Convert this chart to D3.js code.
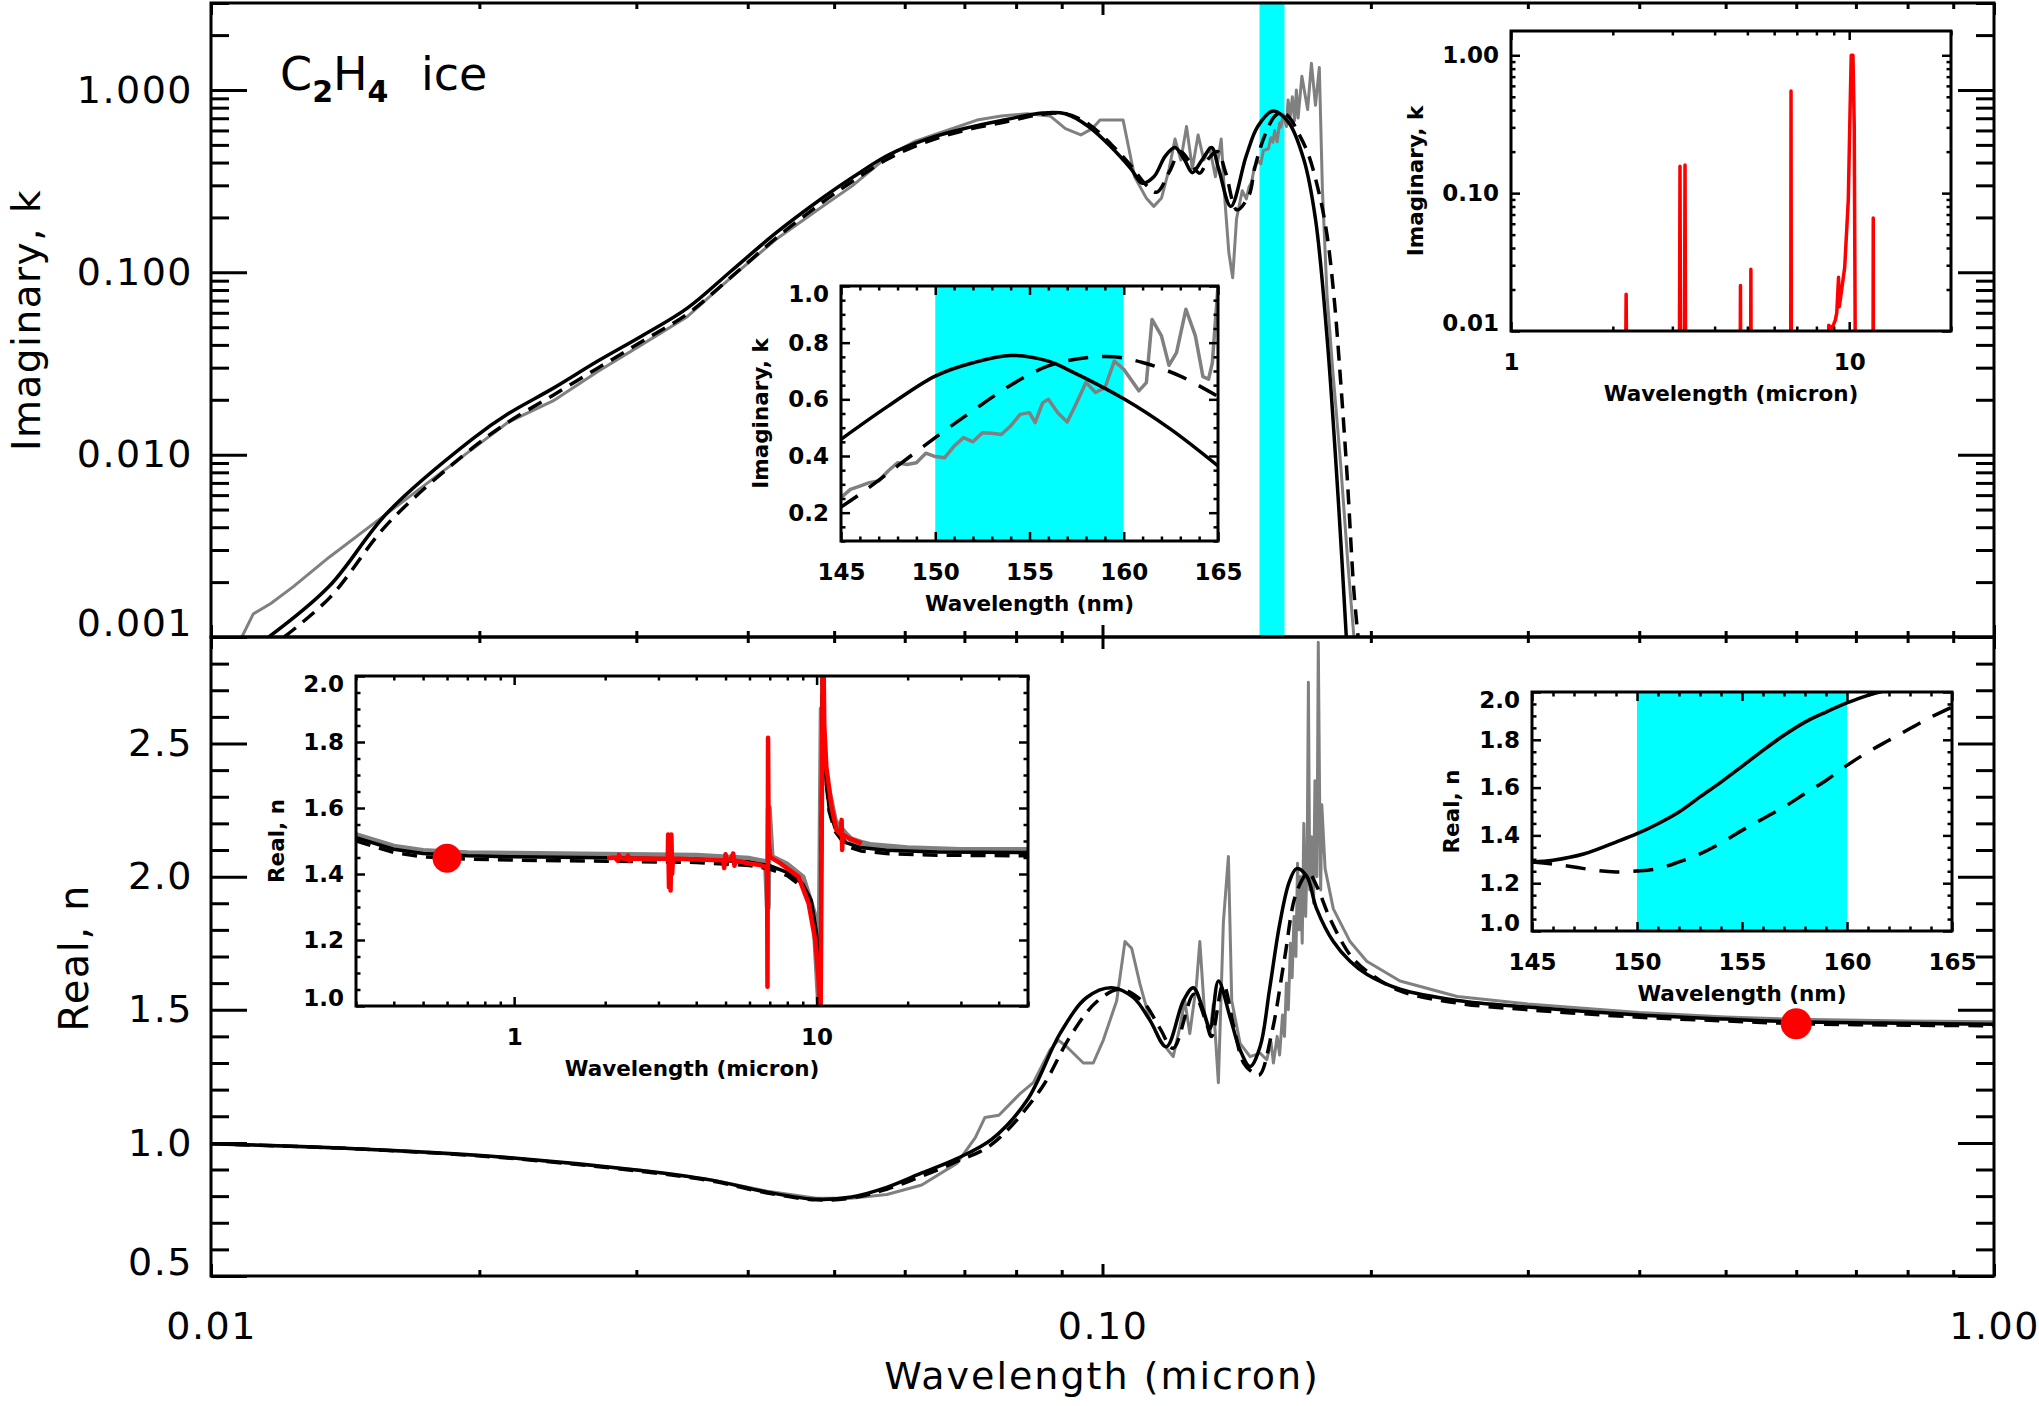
<!DOCTYPE html>
<html><head><meta charset="utf-8">
<script src="https://cdn.jsdelivr.net/npm/d3@7"></script>
<style>body{margin:0;background:#fff}svg{display:block}</style>
</head><body>
<svg id="c" width="2039" height="1406"></svg>
<script>
// ---------------- DATA ----------------
// main x ticks (wavelength, micron)
const lamTickValues = [0.01, 0.1, 1];
const lamTickLabels = ["0.01", "0.10", "1.00"];
const kTickValues = [0.001, 0.01, 0.1, 1];
const kTickLabels = ["0.001", "0.010", "0.100", "1.000"];
const nTickValues = [0.5, 1.0, 1.5, 2.0, 2.5];
const nTickLabels = ["0.5", "1.0", "1.5", "2.0", "2.5"];
const bandMicron = [0.150, 0.160];
const bandNm = [150, 160];
const dotLambda = 0.6, dotN = 1.447, dotNInset = 1.448;

// top panel: imaginary k  [lambda micron, k]
const kGray = [[0.01083,0.001],[0.01115,0.001336],[0.01167,0.001527],[0.01237,0.00189],[0.01357,0.00274],[0.01523,0.0042],[0.0171,0.00643],[0.01919,0.00985],[0.02156,0.0151],[0.02419,0.0197],[0.02716,0.0286],[0.03049,0.0404],[0.03422,0.0571],[0.03841,0.0947],[0.04313,0.153],[0.04842,0.228],[0.0524,0.298],[0.0575,0.435],[0.06169,0.524],[0.06677,0.598],[0.07231,0.684],[0.077,0.72],[0.08228,0.741],[0.08733,0.721],[0.09087,0.614],[0.09456,0.567],[0.09741,0.614],[0.09936,0.684],[0.10546,0.684],[0.10865,0.334],[0.11194,0.256],[0.11418,0.23],[0.11648,0.256],[0.11879,0.371],[0.1206,0.538],[0.12242,0.413],[0.12424,0.631],[0.12611,0.371],[0.12801,0.567],[0.1299,0.413],[0.13187,0.484],[0.13386,0.334],[0.13588,0.538],[0.13723,0.243],[0.13859,0.128],[0.13997,0.0935],[0.14136,0.196],[0.14346,0.28],[0.145,0.253],[0.146,0.294],[0.147,0.312],[0.148,0.376],[0.1495,0.41],[0.1505,0.394],[0.1515,0.465],[0.1535,0.476],[0.1545,0.547],[0.1553,0.518],[0.156,0.6],[0.157,0.52],[0.158,0.66],[0.1585,0.624],[0.1595,0.735],[0.1608,0.63],[0.1615,0.882],[0.1624,0.72],[0.1633,0.918],[0.1642,0.68],[0.165,1.0],[0.16572,0.702],[0.16736,1.19],[0.16986,0.781],[0.17154,1.40],[0.17334,0.824],[0.17507,1.33],[0.17647,0.285],[0.17857,0.0755],[0.18126,0.029],[0.18493,0.00903],[0.18863,0.0024],[0.19143,0.001]];
const kSolid = [[0.01161,0.001],[0.01356,0.00189],[0.01577,0.0048],[0.01965,0.0122],[0.02156,0.0168],[0.02419,0.0231],[0.02716,0.0326],[0.03049,0.045],[0.03422,0.0636],[0.03841,0.1027],[0.04313,0.166],[0.04842,0.254],[0.0524,0.331],[0.0575,0.44],[0.06353,0.538],[0.07,0.615],[0.07749,0.684],[0.0856,0.748],[0.09087,0.741],[0.09645,0.631],[0.10238,0.484],[0.10758,0.371],[0.11084,0.308],[0.11418,0.334],[0.11764,0.435],[0.1206,0.484],[0.12363,0.413],[0.12611,0.352],[0.12929,0.413],[0.13255,0.484],[0.13496,0.371],[0.13929,0.23],[0.14495,0.435],[0.14932,0.631],[0.15539,0.768],[0.16171,0.665],[0.16826,0.413],[0.17334,0.196],[0.17857,0.0444],[0.184,0.00531],[0.18771,0.001]];
const kDashed = [[0.01208,0.001],[0.0136,0.00165],[0.0158,0.0042],[0.0197,0.011],[0.0216,0.0152],[0.0242,0.0212],[0.0272,0.03],[0.0305,0.042],[0.0342,0.059],[0.0384,0.095],[0.0431,0.155],[0.0484,0.24],[0.0524,0.315],[0.0575,0.42],[0.0635,0.52],[0.07,0.6],[0.0775,0.665],[0.0856,0.735],[0.0909,0.74],[0.0965,0.65],[0.1024,0.5],[0.1076,0.385],[0.112,0.3],[0.115,0.275],[0.119,0.36],[0.1222,0.46],[0.1255,0.4],[0.1285,0.35],[0.1315,0.42],[0.1345,0.46],[0.1375,0.35],[0.1415,0.22],[0.146,0.265],[0.148,0.365],[0.15,0.465],[0.152,0.56],[0.154,0.65],[0.156,0.718],[0.158,0.747],[0.1595,0.75],[0.161,0.73],[0.163,0.68],[0.165,0.61],[0.17,0.45],[0.175,0.27],[0.1786,0.16],[0.182,0.07],[0.1849,0.026],[0.188,0.008],[0.1914,0.0018],[0.1935,0.001]];

// bottom panel: real n  [lambda micron, n]
const nGray = [[0.01,0.997],[0.01471,0.977],[0.02114,0.947],[0.03036,0.897],[0.03639,0.862],[0.04207,0.818],[0.04775,0.792],[0.0523,0.792],[0.0573,0.806],[0.0627,0.842],[0.06865,0.923],[0.072,1.02],[0.07379,1.095],[0.07652,1.104],[0.08083,1.185],[0.08364,1.226],[0.08733,1.349],[0.08922,1.386],[0.09117,1.361],[0.09517,1.3],[0.09765,1.3],[0.10021,1.386],[0.10373,1.534],[0.10597,1.756],[0.10782,1.731],[0.11017,1.596],[0.11306,1.46],[0.11601,1.386],[0.12003,1.324],[0.12212,1.435],[0.12368,1.534],[0.12529,1.411],[0.12747,1.596],[0.12858,1.756],[0.13025,1.472],[0.13201,1.411],[0.13315,1.522],[0.13489,1.226],[0.13665,1.83],[0.13843,2.076],[0.13963,1.534],[0.14267,1.374],[0.1464,1.324],[0.15023,1.337],[0.15284,1.312],[0.1545,1.38],[0.1555,1.3],[0.157,1.4],[0.158,1.33],[0.1592,1.48],[0.16,1.4],[0.1608,1.6],[0.1616,1.5],[0.1625,1.75],[0.1632,1.62],[0.164,1.85],[0.1648,1.7],[0.1655,2.05],[0.1662,1.8],[0.1668,2.0],[0.1675,1.75],[0.1682,2.2],[0.169,1.85],[0.1697,2.1],[0.1702,2.73],[0.1708,1.95],[0.1716,2.15],[0.1725,1.9],[0.1731,2.36],[0.174,2.0],[0.1746,2.88],[0.1752,2.3],[0.1757,1.95],[0.1762,2.27],[0.1777,2.03],[0.18152,1.879],[0.18953,1.756],[0.19787,1.682],[0.21564,1.608],[0.25,1.55],[0.3,1.522],[0.4,1.49],[0.5,1.473],[0.6,1.464],[0.8,1.458],[1.0,1.455]];
const nSolid = [[0.01,0.997],[0.01471,0.977],[0.02114,0.947],[0.03036,0.896],[0.03639,0.86],[0.04207,0.815],[0.04775,0.788],[0.0523,0.797],[0.05727,0.833],[0.06271,0.887],[0.06865,0.941],[0.07516,1.014],[0.0823,1.16],[0.08963,1.411],[0.09599,1.546],[0.10237,1.583],[0.10829,1.546],[0.11306,1.46],[0.1179,1.361],[0.12323,1.534],[0.12645,1.583],[0.12975,1.497],[0.13201,1.43],[0.1349,1.608],[0.13903,1.472],[0.14267,1.349],[0.1464,1.287],[0.15023,1.361],[0.154,1.58],[0.158,1.82],[0.162,1.98],[0.1651,2.03],[0.16943,2.002],[0.17387,1.879],[0.18152,1.756],[0.18953,1.682],[0.19787,1.633],[0.21564,1.577],[0.25,1.535],[0.3,1.51],[0.4,1.48],[0.5,1.465],[0.6,1.455],[0.8,1.449],[1.0,1.446]];
const nDashed = [[0.01,0.997],[0.01471,0.977],[0.02114,0.945],[0.03036,0.893],[0.03639,0.857],[0.04207,0.812],[0.04775,0.786],[0.0523,0.793],[0.05727,0.826],[0.06271,0.875],[0.06865,0.93],[0.07516,0.995],[0.0852,1.2],[0.092,1.4],[0.0985,1.53],[0.1046,1.577],[0.111,1.53],[0.116,1.43],[0.12,1.355],[0.1266,1.558],[0.1305,1.46],[0.1325,1.4],[0.13658,1.596],[0.1405,1.43],[0.144,1.3],[0.1477,1.263],[0.15,1.255],[0.155,1.42],[0.16,1.69],[0.165,1.94],[0.1702,2.014],[0.17387,1.965],[0.18,1.842],[0.18953,1.706],[0.19787,1.645],[0.21564,1.571],[0.25,1.525],[0.3,1.5],[0.4,1.472],[0.5,1.458],[0.6,1.448],[0.8,1.442],[1.0,1.44]];

// inset A: k vs nm
const nmTickValues = [145, 150, 155, 160, 165];
const nmTickLabels = ["145", "150", "155", "160", "165"];
const insetKTickValues = [0.2, 0.4, 0.6, 0.8, 1.0];
const insetKTickLabels = ["0.2", "0.4", "0.6", "0.8", "1.0"];
const insetKGray = [[145,0.253],[145.5,0.282],[146,0.294],[146.5,0.306],[147,0.312],[147.5,0.347],[148,0.376],[148.5,0.37],[149,0.376],[149.5,0.41],[150,0.398],[150.5,0.394],[151,0.435],[151.5,0.465],[152,0.45],[152.5,0.482],[153,0.48],[153.5,0.476],[154,0.506],[154.5,0.547],[155,0.553],[155.3,0.518],[155.7,0.588],[156,0.6],[156.5,0.553],[157,0.52],[157.5,0.588],[158,0.66],[158.5,0.624],[159,0.641],[159.5,0.735],[160,0.706],[160.5,0.659],[160.8,0.63],[161.2,0.659],[161.5,0.882],[162,0.824],[162.4,0.72],[162.8,0.765],[163.3,0.918],[163.8,0.824],[164.2,0.68],[164.5,0.671],[164.7,0.729],[165,1.0]];
const insetKSolid = [[145,0.459],[147.5,0.576],[150,0.682],[152,0.729],[154,0.755],[156,0.735],[157,0.706],[160,0.602],[162.5,0.494],[165,0.365]];
const insetKDashed = [[145,0.22],[146,0.265],[148,0.365],[150,0.465],[152,0.56],[154,0.65],[156,0.718],[158,0.747],[159.5,0.75],[161,0.73],[163,0.682],[165,0.61]];

// inset B: k vs micron (IR)
const irTickValues = [1, 10];
const irTickLabels = ["1", "10"];
const irKTickValues = [0.01, 0.1, 1];
const irKTickLabels = ["0.01", "0.10", "1.00"];
const irKRed = [[1.0,0.001],[2.17,0.001],[2.19,0.0185],[2.21,0.001],[3.14,0.001],[3.16,0.157],[3.18,0.001],[3.25,0.001],[3.27,0.16],[3.29,0.001],[4.75,0.001],[4.77,0.0214],[4.79,0.001],[5.10,0.001],[5.12,0.028],[5.14,0.001],[6.71,0.001],[6.73,0.551],[6.75,0.001],[8.65,0.001],[8.7,0.011],[8.9,0.0105],[9.1,0.012],[9.19,0.0136],[9.3,0.0245],[9.35,0.015],[9.7,0.029],[9.94,0.09],[10.05,0.36],[10.14,1.0],[10.26,1.0],[10.35,0.3],[10.46,0.001],[11.75,0.001],[11.78,0.066],[11.8,0.001],[20,0.001]];

// inset C: n vs micron
const insetNTickValues = [1.0, 1.2, 1.4, 1.6, 1.8, 2.0];
const insetNTickLabels = ["1.0", "1.2", "1.4", "1.6", "1.8", "2.0"];
const irNGray = [[0.3,1.518],[0.4,1.483],[0.5,1.47],[0.7,1.463],[1,1.461],[2,1.458],[4,1.455],[6,1.446],[6.8,1.436],[6.9,1.3],[6.95,1.6],[7.1,1.452],[8,1.428],[9,1.39],[9.8,1.28],[10.2,1.0],[10.4,1.9],[10.7,1.7],[11.5,1.56],[12.5,1.52],[13,1.505],[14,1.495],[15,1.488],[20,1.478],[30,1.473],[50,1.473]];
const irNSolid = [[0.3,1.51],[0.4,1.475],[0.5,1.462],[0.7,1.455],[1,1.452],[2,1.449],[4,1.445],[6,1.436],[7,1.425],[8,1.405],[9,1.37],[9.6,1.32],[10.0,1.22],[10.2,1.05],[10.3,0.95],[10.45,2.05],[10.6,1.75],[11,1.6],[11.5,1.54],[12.5,1.495],[14,1.48],[17,1.472],[25,1.467],[50,1.465]];
const irNDashed = [[0.3,1.5],[0.4,1.465],[0.5,1.452],[0.7,1.445],[1,1.442],[2,1.439],[4,1.435],[6,1.426],[7,1.415],[8,1.395],[9,1.36],[9.6,1.31],[10.0,1.21],[10.2,1.04],[10.3,0.94],[10.45,2.04],[10.6,1.74],[11,1.59],[11.5,1.53],[12.5,1.485],[14,1.47],[17,1.462],[25,1.457],[50,1.455]];
const irNRed = [[2.03,1.448],[2.15,1.45],[2.2,1.44],[2.22,1.458],[2.25,1.448],[2.35,1.446],[2.38,1.456],[2.4,1.44],[2.45,1.447],[3.0,1.446],[3.22,1.446],[3.23,1.52],[3.25,1.36],[3.27,1.5],[3.29,1.35],[3.31,1.52],[3.33,1.4],[3.35,1.447],[4.0,1.444],[4.9,1.442],[4.95,1.418],[5.0,1.46],[5.05,1.44],[5.2,1.445],[5.3,1.462],[5.35,1.425],[5.4,1.44],[6.0,1.432],[6.5,1.427],[6.81,1.421],[6.86,1.4],[6.88,1.058],[6.91,1.813],[6.94,1.5],[7.03,1.451],[7.6,1.432],[8.71,1.392],[9.41,1.311],[9.9,1.2],[10.15,1.08],[10.3,0.9],[10.5,2.2],[10.6,1.85],[10.77,1.725],[11.2,1.604],[11.64,1.533],[12.0,1.52],[12.1,1.564],[12.15,1.473],[12.2,1.52],[12.8,1.508],[14.1,1.493]];

// inset D: n vs nm
const insetNSolid = [[145,1.289],[146,1.296],[147.5,1.323],[149,1.372],[150,1.407],[151,1.449],[152,1.498],[153,1.561],[154,1.623],[155,1.689],[156,1.756],[157,1.819],[158,1.874],[159,1.916],[160,1.954],[161,1.986],[162,2.01],[163,2.03],[165,2.05]];
const insetNDashed = [[145,1.289],[146,1.28],[147,1.268],[148,1.254],[149,1.247],[150,1.251],[151,1.261],[152,1.289],[153,1.323],[154,1.368],[155,1.421],[156,1.47],[157,1.519],[158,1.575],[159,1.63],[160,1.693],[161,1.749],[162,1.798],[163,1.847],[164,1.895],[165,1.937]];

// ---------------- DRAWING ----------------
const FONT = "'DejaVu Sans', 'Liberation Sans', sans-serif";
const GRAY = "#808080", RED = "#ff0000", CYAN = "#00ffff";
const svg = d3.select("#c");
svg.append("rect").attr("width", 2039).attr("height", 1406).attr("fill", "#fff");
const defs = svg.append("defs");
let clipN = 0;
function clip(l, t, r, b) {
  const id = "cp" + (clipN++);
  defs.append("clipPath").attr("id", id).append("rect")
    .attr("x", l).attr("y", t).attr("width", r - l).attr("height", b - t);
  return "url(#" + id + ")";
}
function logMinors(lo, hi) {
  const out = [];
  for (let e = Math.floor(Math.log10(lo)) - 1; e <= Math.ceil(Math.log10(hi)); e++)
    for (let m = 2; m <= 9; m++) {
      const v = m * Math.pow(10, e);
      if (v >= lo * 0.9999 && v <= hi * 1.0001) out.push(v);
    }
  return out;
}
function linMinors(lo, hi, step, majors) {
  const out = [];
  for (let v = lo; v <= hi + step / 2; v += step) {
    const r = Math.round(v * 1000) / 1000;
    if (!majors.some(m => Math.abs(m - r) < 1e-6)) out.push(r);
  }
  return out;
}

function axes(g, xs, ys, o) {
  const [x0, x1] = xs.range(), [yb, yt] = ys.range();
  const sides = [
    {fn: d3.axisBottom, tr: `translate(0,${yb})`, s: xs, M: o.xMajor, m: o.xMinor, len: o.xLen, lab: o.xLabels, pad: o.xPad, isY: false},
    {fn: d3.axisTop, tr: `translate(0,${yt})`, s: xs, M: o.xMajor, m: o.xMinor, len: o.xLen, lab: null, isY: false},
    {fn: d3.axisLeft, tr: `translate(${x0},0)`, s: ys, M: o.yMajor, m: o.yMinor, len: o.yLen, lab: o.yLabels, pad: o.yPad, isY: true},
    {fn: d3.axisRight, tr: `translate(${x1},0)`, s: ys, M: o.yMajor, m: o.yMinor, len: o.yLen, lab: null, isY: true}
  ];
  sides.forEach(sd => {
    const gm = g.append("g").attr("transform", sd.tr)
      .call(sd.fn(sd.s).tickValues(sd.m).tickSize(-sd.len[1]).tickFormat(""));
    const gM = g.append("g").attr("transform", sd.tr)
      .call(sd.fn(sd.s).tickValues(sd.M).tickSize(-sd.len[0]).tickPadding(sd.pad || 0)
        .tickFormat(sd.lab ? (d, i) => sd.lab[i] : ""));
    [gm, gM].forEach(a => {
      a.select(".domain").remove();
      a.selectAll("line").attr("stroke", "#000").attr("stroke-width", o.tickW);
      a.attr("font-family", FONT).attr("font-size", o.fontSize).attr("font-weight", o.fontWeight)
        .attr("letter-spacing", o.ls || 0);
    });
    if (sd.lab && sd.isY) {
      gM.selectAll(".tick text").each(function (d) {
        const p = ys(d);
        const q = Math.min(Math.max(p, yt + o.clampC), yb - o.clampC);
        d3.select(this).attr("y", q - p);
      });
    }
  });
  g.append("rect").attr("x", x0).attr("y", yt).attr("width", x1 - x0).attr("height", yb - yt)
    .attr("fill", "none").attr("stroke", "#000").attr("stroke-width", o.frameW);
}
function path(g, data, xs, ys, color, width, dash, curve) {
  g.append("path").datum(data)
    .attr("d", d3.line().x(d => xs(d[0])).y(d => ys(d[1])).curve(curve || d3.curveLinear))
    .attr("fill", "none").attr("stroke", color).attr("stroke-width", width)
    .attr("stroke-dasharray", dash || null).attr("stroke-linejoin", "round");
}

// ---- Main panels ----
const M = {l: 211, r: 1994, t: 3, mid: 637, b: 1276};
const x = d3.scaleLog().domain([0.01, 1]).range([M.l, M.r]);
const yK = d3.scaleLog().domain([0.001, 3]).range([M.mid, M.t]);
const yN = d3.scaleLinear().domain([0.5, 2.9]).range([M.b, M.mid]);
const smooth = d3.curveCatmullRom.alpha(0.5);

const gTop = svg.append("g");
const cTop = gTop.append("g").attr("clip-path", clip(M.l, M.t, M.r, M.mid));
cTop.append("rect").attr("x", x(bandMicron[0])).attr("y", M.t)
  .attr("width", x(bandMicron[1]) - x(bandMicron[0])).attr("height", M.mid - M.t).attr("fill", CYAN);
path(cTop, kGray, x, yK, GRAY, 3);
path(cTop, kSolid, x, yK, "#000", 3.5, null, smooth);
path(cTop, kDashed, x, yK, "#000", 3.5, "15,9", smooth);

const gBot = svg.append("g");
const cBot = gBot.append("g").attr("clip-path", clip(M.l, M.mid, M.r, M.b));
path(cBot, nGray, x, yN, GRAY, 3);
path(cBot, nSolid, x, yN, "#000", 3.5, null, smooth);
path(cBot, nDashed, x, yN, "#000", 3.5, "15,9", smooth);
cBot.append("circle").attr("cx", x(dotLambda)).attr("cy", yN(dotN)).attr("r", 15.5).attr("fill", RED);

const mainOpt = {xMajor: lamTickValues, xMinor: logMinors(0.01, 1), xLen: [12, 6],
  tickW: 3, frameW: 3, fontSize: 38, fontWeight: 400, ls: 1.5, clampC: 14, yLen: [36, 18], yPad: 18};
axes(gTop, x, yK, Object.assign({}, mainOpt, {yMajor: kTickValues, yMinor: logMinors(0.001, 3), yLabels: kTickLabels, xLabels: null}));
axes(gBot, x, yN, Object.assign({}, mainOpt, {yMajor: nTickValues, yMinor: linMinors(0.5, 2.9, 0.1, nTickValues), yLabels: nTickLabels, xLabels: lamTickLabels, xPad: 36}));

// titles
svg.append("text").attr("transform", "translate(40,320) rotate(-90)").attr("text-anchor", "middle")
  .attr("font-family", FONT).attr("font-size", 39).attr("letter-spacing", 1.5).text("Imaginary, k");
svg.append("text").attr("transform", "translate(88,958) rotate(-90)").attr("text-anchor", "middle")
  .attr("font-family", FONT).attr("font-size", 40).attr("letter-spacing", 1.5).text("Real, n");
svg.append("text").attr("x", 1102).attr("y", 1389).attr("text-anchor", "middle")
  .attr("font-family", FONT).attr("font-size", 38).attr("letter-spacing", 2).text("Wavelength (micron)");
const lab = svg.append("text").attr("x", 280).attr("y", 90).attr("font-family", FONT).attr("font-size", 46);
lab.append("tspan").text("C");
lab.append("tspan").attr("font-size", 30).attr("dy", 12).attr("font-weight", 700).text("2");
lab.append("tspan").attr("dy", -12).text("H");
lab.append("tspan").attr("font-size", 30).attr("dy", 12).attr("font-weight", 700).text("4");
lab.append("tspan").attr("x", 421).attr("dy", -12).text("ice");

// ---- Insets ----
function inset(c) {
  const {l, r, t, b} = c.box;
  const g = svg.append("g");
  g.append("rect").attr("x", l).attr("y", t).attr("width", r - l).attr("height", b - t).attr("fill", "#fff");
  const xs = (c.xLog ? d3.scaleLog() : d3.scaleLinear()).domain(c.xDom).range([l, r]);
  const ys = (c.yLog ? d3.scaleLog() : d3.scaleLinear()).domain(c.yDom).range([b, t]);
  const cg = g.append("g").attr("clip-path", clip(l, t, r, b));
  if (c.band) cg.append("rect").attr("x", xs(c.band[0])).attr("y", t)
    .attr("width", xs(c.band[1]) - xs(c.band[0])).attr("height", b - t).attr("fill", CYAN);
  c.series.forEach(s => path(cg, s.d, xs, ys, s.color, s.w, s.dash, s.curve));
  if (c.dot) cg.append("circle").attr("cx", xs(c.dot[0])).attr("cy", ys(c.dot[1])).attr("r", 14.5).attr("fill", RED);
  axes(g, xs, ys, {xMajor: c.xMajor, xMinor: c.xMinor, xLabels: c.xLabels, xPad: 23, xLen: [9, 4.5],
    yMajor: c.yMajor, yMinor: c.yMinor, yLabels: c.yLabels, yPad: 12, yLen: [9, 4.5],
    tickW: 2.5, frameW: 3, fontSize: 23, fontWeight: 700, ls: 0, clampC: 8});
  g.append("text").attr("x", (l + r) / 2).attr("y", b + 70).attr("text-anchor", "middle")
    .attr("font-family", FONT).attr("font-size", 21.5).attr("font-weight", 700).text(c.xTitle);
  g.append("text").attr("transform", `translate(${l + c.yTitleDx},${(t + b) / 2}) rotate(-90)`)
    .attr("text-anchor", "middle").attr("dy", "0.35em")
    .attr("font-family", FONT).attr("font-size", 21.5).attr("font-weight", 700).text(c.yTitle);
}

inset({box: {l: 841, r: 1218, t: 286, b: 541}, xDom: [145, 165], yDom: [0.1, 1.0], band: bandNm,
  series: [{d: insetKGray, color: GRAY, w: 3.5}, {d: insetKSolid, color: "#000", w: 3.5, curve: smooth},
    {d: insetKDashed, color: "#000", w: 3.5, dash: "20,14", curve: smooth}],
  xMajor: nmTickValues, xMinor: linMinors(145, 165, 1, nmTickValues), xLabels: nmTickLabels,
  yMajor: insetKTickValues, yMinor: linMinors(0.1, 1.0, 0.05, insetKTickValues), yLabels: insetKTickLabels,
  xTitle: "Wavelength (nm)", yTitle: "Imaginary, k", yTitleDx: -81});

inset({box: {l: 1511, r: 1951, t: 31, b: 331}, xLog: true, yLog: true, xDom: [1, 20], yDom: [0.01, 1.5],
  series: [{d: irKRed, color: RED, w: 3.5}],
  xMajor: irTickValues, xMinor: logMinors(1, 20), xLabels: irTickLabels,
  yMajor: irKTickValues, yMinor: logMinors(0.01, 1.5), yLabels: irKTickLabels,
  xTitle: "Wavelength (micron)", yTitle: "Imaginary, k", yTitleDx: -96});

inset({box: {l: 356, r: 1028, t: 676, b: 1006}, xLog: true, xDom: [0.3, 50], yDom: [1.0, 2.0],
  series: [{d: irNGray, color: GRAY, w: 6}, {d: irNDashed, color: "#000", w: 3.5, dash: "15,9"},
    {d: irNSolid, color: "#000", w: 3.5}, {d: irNRed, color: RED, w: 4.5}],
  dot: [dotLambda, dotNInset],
  xMajor: irTickValues, xMinor: logMinors(0.3, 50), xLabels: irTickLabels,
  yMajor: insetNTickValues, yMinor: linMinors(1.0, 2.0, 0.05, insetNTickValues), yLabels: insetNTickLabels,
  xTitle: "Wavelength (micron)", yTitle: "Real, n", yTitleDx: -80});

inset({box: {l: 1532, r: 1952, t: 692, b: 931}, xDom: [145, 165], yDom: [1.0, 2.0], band: bandNm,
  series: [{d: insetNSolid, color: "#000", w: 3.5, curve: smooth},
    {d: insetNDashed, color: "#000", w: 3.5, dash: "20,14", curve: smooth}],
  xMajor: nmTickValues, xMinor: linMinors(145, 165, 1, nmTickValues), xLabels: nmTickLabels,
  yMajor: insetNTickValues, yMinor: linMinors(1.0, 2.0, 0.05, insetNTickValues), yLabels: insetNTickLabels,
  xTitle: "Wavelength (nm)", yTitle: "Real, n", yTitleDx: -81});
</script>
</body></html>
